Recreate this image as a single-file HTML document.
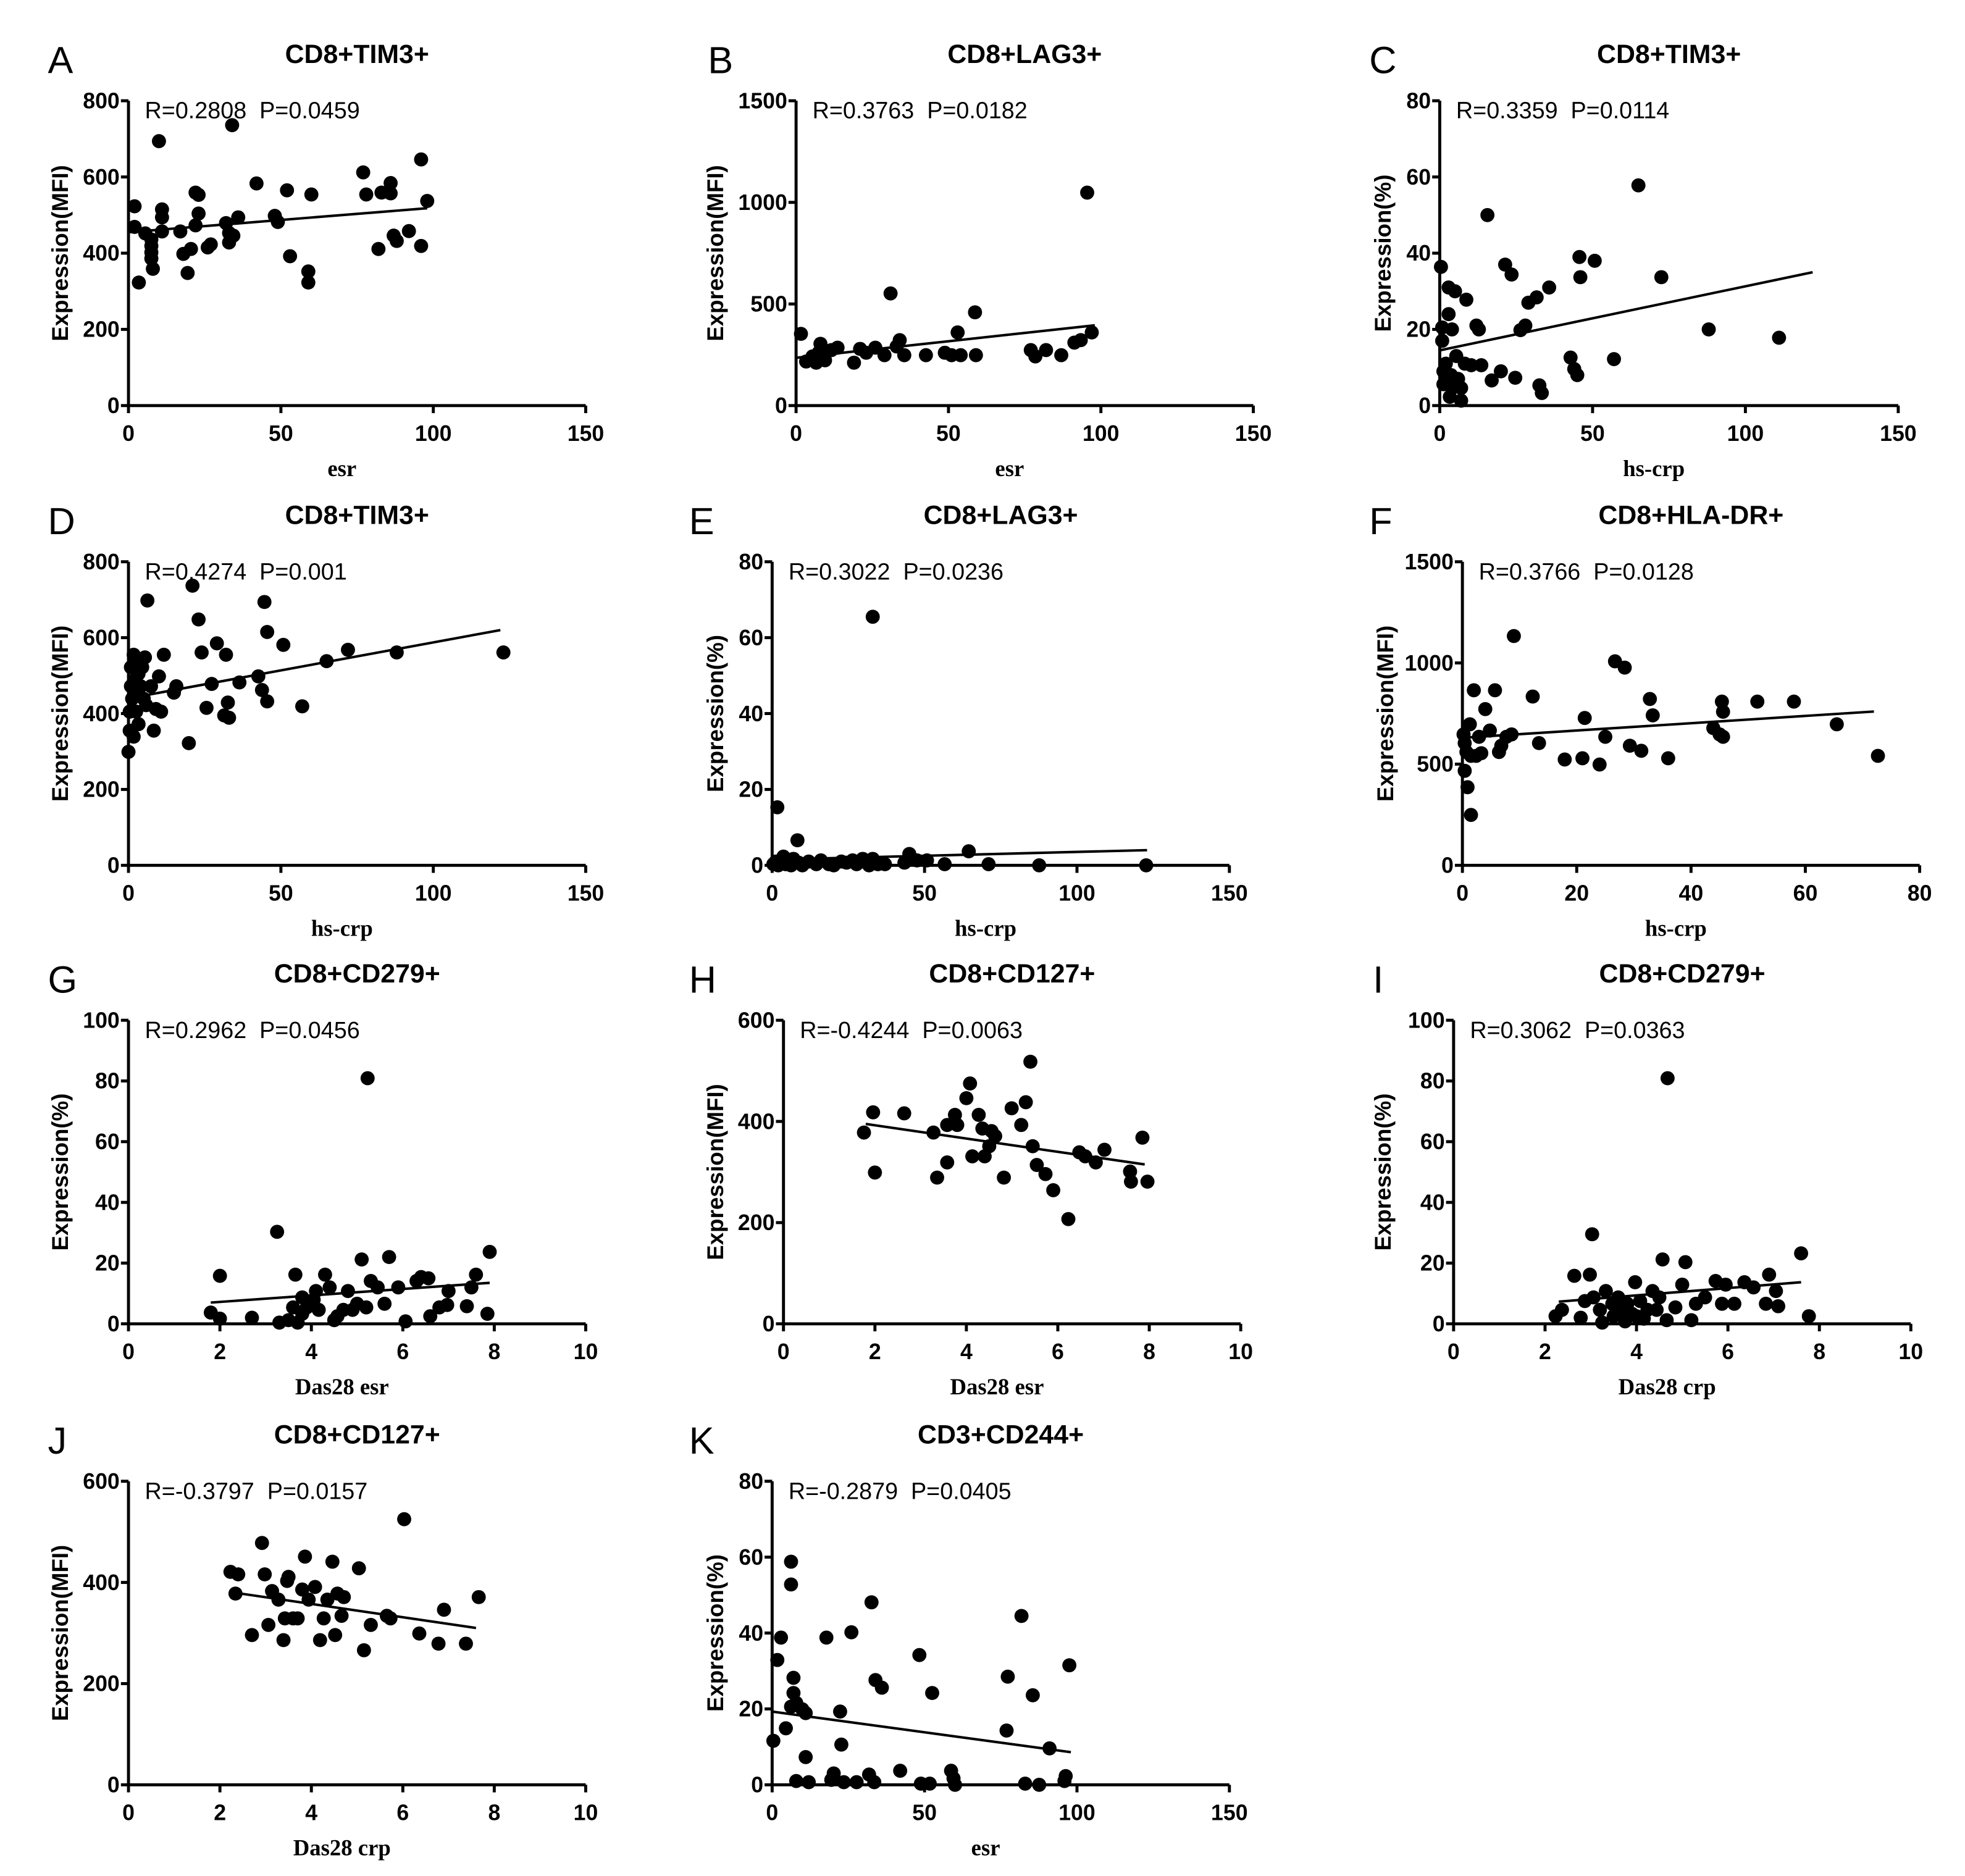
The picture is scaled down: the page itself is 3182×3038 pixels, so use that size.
<!DOCTYPE html>
<html><head><meta charset="utf-8"><style>
html,body{margin:0;padding:0;background:#fff;}
svg{display:block;}
.tick{font-family:"Liberation Sans",sans-serif;font-weight:bold;font-size:17.5px;fill:#000;}
.ttl{font-family:"Liberation Sans",sans-serif;font-weight:bold;font-size:21px;fill:#000;}
.let{font-family:"Liberation Sans",sans-serif;font-size:30px;fill:#000;}
.stat{font-family:"Liberation Sans",sans-serif;font-size:18.5px;fill:#000;}
.xl{font-family:"Liberation Serif",serif;font-weight:bold;font-size:18px;fill:#000;}
.yl{font-family:"Liberation Sans",sans-serif;font-weight:bold;font-size:18px;fill:#000;}
</style></head><body>
<svg id="fig" width="3182" height="3038" viewBox="0 0 1560 1489.4" preserveAspectRatio="none" xmlns="http://www.w3.org/2000/svg"></svg>
<script>
// ---- data ----
const aX=[2,2,3.4,5.5,7.5,7.5,7.5,7.5,8,10,11,11,11,17,18,19.4,20.5,22,22,23,23,26,27,32,33,33,34,34.4,36,42,48,49,52,53,59,59,60,77,78,82,83,86,86,87,88,92,96,96,98];
const aY=[523,469,323,452,436,419,402,386,359,694,515,494,457,457,398,348,411,473,559,553,504,415,423,479,428,453,736,446,494,583,498,482,565,392,352,323,554,612,554,411,559,584,557,446,432,458,646,419,537];
const aFit=[0,455,98,518];
const bX=[1.6,3.3,5.4,7.4,6.6,8,9.5,11.6,13.6,19,21,23,26,29,31,33,34,35.5,42.6,48.8,51,53,54,58.7,59,77,78.5,82,87,91.3,95.5,93.4,97];
const bY=[353,217,242,260,211,304,223,273,285,211,279,260,285,248,552,291,322,248,248,260,248,360,248,459,248,273,242,273,248,310,1048,322,360];
const bFit=[0,235,98,395];
const cX=[0.4,0.8,0.8,1.2,1.2,2,2.9,2.9,3.3,3.7,4,5,4,5.4,6,7,7,8.2,8.7,10.3,12,12.8,13.6,15.6,17,20,21.4,23.5,24.7,26.4,28,29,31.7,32.6,33.4,35.8,42.8,44,45,45.7,46,50.7,57,65,72.5,88,111];
const cY=[36.4,17,20.5,9,5.6,11,24,31,2.3,8,4.6,30,20,13,7,1.3,4.6,11,27.8,10.6,21,20,10.6,50,6.6,9,37,34.4,7.3,19.8,21,27,28.4,5.3,3.3,31,12.6,9.6,8,39,33.7,38,12.2,57.8,33.7,20,17.8];
const cFit=[0,14.5,122,35];
const dX=[0,0.4,0.4,0.8,0.8,1.2,1.7,1.7,2,2.5,2.5,2.9,3.3,3.3,4,4.5,5,5.4,6.2,5.8,7.4,8.3,9,10,10.7,11.6,14.9,15.7,19.8,21,23,24,25.6,27.3,29,31.4,32,32.6,33,36.4,42.6,43.8,44.6,45.5,45.5,50.8,57,65,72,88,123];
const dY=[299,355,405,472,522,439,339,555,488,405,538,455,372,505,472,522,439,548,698,422,472,355,412,498,405,555,455,472,322,737,648,561,415,478,585,395,555,429,389,482,498,462,694,615,432,581,419,538,568,561,561];
const dFit=[0,440,122,620];
const eX=[0.4,1.2,2,2.9,3.7,4.5,5.4,6.2,7,8.3,8.7,9.9,12,14.5,16,18.6,20.2,22.7,24.4,26.4,27.7,29.7,31,31.8,33,33,34.7,37,43.4,45,47.5,50.8,56.6,64.5,71,87.6,122.7,1.7];
const eY=[0.3,1,0,1.3,2.3,0.3,1,0,1.7,6.6,0.7,0,1,0.3,1.3,0.3,0,1,0.7,1.3,0.3,1.7,0.7,0,1.7,65.5,0.3,0.3,0.7,3,1.3,1.3,0.3,3.7,0.3,0,0,15.3];
const eFit=[0,1.5,123,4];
const fX=[0.2,0.4,0.4,0.7,0.9,1.3,1.5,1.5,2,2.4,2.9,3.3,4,4.8,5.7,6.4,6.8,7.7,9,8.6,12.3,13.4,17.9,21.4,21,24,25,26.7,28.4,29.3,31.3,32.8,33.3,36,43.9,45,45.4,45.6,45.6,51.6,58,65.5,72.7];
const fY=[647,604,467,560,386,697,249,541,865,541,635,554,772,666,865,560,591,635,1133,647,834,604,523,728,529,498,635,1008,977,591,566,822,741,529,678,647,809,759,635,809,809,697,541];
const fFit=[0,630,72,760];
const gX=[1.8,2,2,2.7,3.25,3.3,3.5,3.6,3.65,3.7,3.8,3.8,3.9,4.05,4.1,4.16,4.3,4.4,4.5,4.57,4.7,4.8,4.9,5,5.1,5.2,5.23,5.3,5.45,5.6,5.7,5.9,6.06,6.3,6.4,6.56,6.6,6.8,6.97,7,7.4,7.5,7.6,7.85,7.9];
const gY=[3.7,1.7,15.8,2,30.3,0.4,1.2,5.4,16.2,0.4,8.7,3.3,5.4,7.9,10.8,4.6,16.2,12,1.2,2.5,4.6,10.8,4.6,6.6,21.2,5.4,80.9,14.1,12,6.6,22,12,0.8,14.1,15.4,15,2.5,5.4,6.2,10.8,5.8,12,16.2,3.3,23.7];
const gFit=[1.8,7,7.9,13.5];
const hX=[1.76,1.96,2,2.64,3.28,3.36,3.58,3.58,3.75,3.8,4,4.08,4.13,4.27,4.35,4.4,4.5,4.55,4.63,4.82,4.99,5.2,5.3,5.4,5.45,5.54,5.73,5.9,6.23,6.47,6.6,6.83,7.02,7.58,7.6,7.85,7.96];
const hY=[378,418,299,416,378,289,319,393,413,393,446,475,331,413,386,331,351,381,371,289,426,393,438,518,351,314,296,264,207,339,331,319,344,301,281,368,281];
const hFit=[1.8,395,7.9,315];
const iX=[2.23,2.37,2.64,2.78,2.87,2.98,3.03,3.06,3.2,3.25,3.33,3.47,3.5,3.6,3.7,3.75,3.8,3.9,3.97,4,4.08,4.16,4.24,4.35,4.44,4.5,4.57,4.66,4.68,4.85,5,5.07,5.2,5.3,5.5,5.73,5.87,5.95,6.14,6.36,6.56,6.83,6.9,7.05,7.1,7.6,7.77];
const iY=[2.5,4.6,15.8,2,7.5,16.2,29.5,8.7,4.6,0.4,10.8,6.6,2.5,8.7,4.6,0.8,6.6,3.3,13.7,2.5,7.5,1.7,4.6,10.8,4.6,8.7,21.2,1.2,80.9,5.4,12.9,20.3,1.2,6.6,8.7,14.1,6.6,12.9,6.6,13.7,12,6.6,16.2,10.8,5.8,23.2,2.5];
const iFit=[2.3,7.3,7.6,13.7];
const jX=[2.23,2.34,2.4,2.7,2.92,2.98,3.06,3.14,3.28,3.39,3.42,3.47,3.5,3.6,3.7,3.8,3.86,3.94,4.08,4.19,4.27,4.35,4.46,4.52,4.57,4.66,4.71,5.04,5.15,5.3,5.65,5.73,6.03,6.36,6.78,6.9,7.38,7.66];
const jY=[421,378,416,296,478,416,316,383,366,286,329,403,411,329,329,386,451,366,391,286,329,366,441,296,378,334,371,428,266,316,334,329,525,299,279,346,279,371];
const jFit=[2.3,380,7.6,310];
const kX=[0.4,1.7,2.9,4.5,6.2,6.2,6.2,7,7,7.9,7.9,9.9,11,11,12,17.8,19.4,20.2,22.3,22.7,23.5,26,27.7,31.8,32.6,33.5,33.9,36,42,48.3,48.8,51.7,52.5,58.7,59.5,60,76.9,77.3,81.8,83,85.5,87.6,91,95.9,96.3,97.5];
const kY=[11.6,32.9,38.8,14.9,20.6,58.8,52.8,28.2,24.2,21.6,1,19.9,18.9,7.3,0.7,38.8,1.3,3,19.3,10.6,0.7,40.2,0.7,2.7,48.1,0.7,27.6,25.6,3.7,34.2,0.3,0.3,24.2,3.7,1.7,0,14.3,28.5,44.5,0.3,23.6,0,9.6,1,2.3,31.5];
const kFit=[0,19.3,98,8.6];
const xTicks150=[0,50,100,150], xTicks80=[0,20,40,60,80], xTicks10=[0,2,4,6,8,10];
const yT800=[0,200,400,600,800], yT1500=[0,500,1000,1500], yT80=[0,20,40,60,80], yT100=[0,20,40,60,80,100], yT600=[0,200,400,600];

// ---- layout ----
const panels=[
 {id:'a',L:'A',t:'CD8+TIM3+',st:'R=0.2808  P=0.0459',x0:102,x1:465,top:80,bot:322,xm:150,ym:800,xt:xTicks150,yt:yT800,xl:'esr',yl:'Expression(MFI)',X:aX,Y:aY,F:aFit,lx:38,ylx:48},
 {id:'b',L:'B',t:'CD8+LAG3+',st:'R=0.3763  P=0.0182',x0:632,x1:995,top:80,bot:322,xm:150,ym:1500,xt:xTicks150,yt:yT1500,xl:'esr',yl:'Expression(MFI)',X:bX,Y:bY,F:bFit,lx:562,ylx:568},
 {id:'c',L:'C',t:'CD8+TIM3+',st:'R=0.3359  P=0.0114',x0:1143,x1:1507,top:80,bot:322,xm:150,ym:80,xt:xTicks150,yt:yT80,xl:'hs-crp',yl:'Expression(%)',X:cX,Y:cY,F:cFit,lx:1087,ylx:1098},
 {id:'d',L:'D',t:'CD8+TIM3+',st:'R=0.4274  P=0.001',x0:102,x1:465,top:446,bot:687,xm:150,ym:800,xt:xTicks150,yt:yT800,xl:'hs-crp',yl:'Expression(MFI)',X:dX,Y:dY,F:dFit,lx:38,ylx:48},
 {id:'e',L:'E',t:'CD8+LAG3+',st:'R=0.3022  P=0.0236',x0:613,x1:976,top:446,bot:687,xm:150,ym:80,xt:xTicks150,yt:yT80,xl:'hs-crp',yl:'Expression(%)',X:eX,Y:eY,F:eFit,lx:547,ylx:568},
 {id:'f',L:'F',t:'CD8+HLA-DR+',st:'R=0.3766  P=0.0128',x0:1161,x1:1524,top:446,bot:687,xm:80,ym:1500,xt:xTicks80,yt:yT1500,xl:'hs-crp',yl:'Expression(MFI)',X:fX,Y:fY,F:fFit,lx:1087,ylx:1100},
 {id:'g',L:'G',t:'CD8+CD279+',st:'R=0.2962  P=0.0456',x0:102,x1:465,top:810,bot:1051,xm:10,ym:100,xt:xTicks10,yt:yT100,xl:'Das28 esr',yl:'Expression(%)',X:gX,Y:gY,F:gFit,lx:38,ylx:48},
 {id:'h',L:'H',t:'CD8+CD127+',st:'R=-0.4244  P=0.0063',x0:622,x1:985,top:810,bot:1051,xm:10,ym:600,xt:xTicks10,yt:yT600,xl:'Das28 esr',yl:'Expression(MFI)',X:hX,Y:hY,F:hFit,lx:547,ylx:568},
 {id:'i',L:'I',t:'CD8+CD279+',st:'R=0.3062  P=0.0363',x0:1154,x1:1517,top:810,bot:1051,xm:10,ym:100,xt:xTicks10,yt:yT100,xl:'Das28 crp',yl:'Expression(%)',X:iX,Y:iY,F:iFit,lx:1090,ylx:1098},
 {id:'j',L:'J',t:'CD8+CD127+',st:'R=-0.3797  P=0.0157',x0:102,x1:465,top:1176,bot:1417,xm:10,ym:600,xt:xTicks10,yt:yT600,xl:'Das28 crp',yl:'Expression(MFI)',X:jX,Y:jY,F:jFit,lx:38,ylx:48},
 {id:'k',L:'K',t:'CD3+CD244+',st:'R=-0.2879  P=0.0405',x0:613,x1:976,top:1176,bot:1417,xm:150,ym:80,xt:xTicks150,yt:yT80,xl:'esr',yl:'Expression(%)',X:kX,Y:kY,F:kFit,lx:547,ylx:568}
];
const NS='http://www.w3.org/2000/svg';
const svg=document.getElementById('fig');
function mk(tag,attrs,parent,txt){const e=document.createElementNS(NS,tag);for(const k in attrs)e.setAttribute(k,attrs[k]);if(txt!==undefined)e.textContent=txt;parent.appendChild(e);return e;}
panels.forEach(p=>{
  const g=mk('g',{},svg);
  
  
  const sx=v=>p.x0+(v/p.xm)*(p.x1-p.x0);
  const sy=v=>p.bot-(v/p.ym)*(p.bot-p.top);
  const lt=mk('text',{x:p.lx,y:p.top-22,class:'let'},g,p.L);
  
  
  const tt=mk('text',{x:(p.x0+p.x1)/2,y:p.top-30,class:'ttl','text-anchor':'middle'},g,p.t);
  
  
  const stt=mk('text',{x:p.x0+13,y:p.top+14,class:'stat'},g,p.st.replace('  ','\u00a0\u00a0'));
  
  
  const ax=mk('path',{d:`M${p.x0},${p.top} L${p.x0},${p.bot} L${p.x1},${p.bot}`,stroke:'#000','stroke-width':2.4,fill:'none'},g);
  
  
  p.xt.forEach(v=>{
    const x=sx(v);
    const tl=mk('line',{x1:x,y1:p.bot,x2:x,y2:p.bot+6,stroke:'#000','stroke-width':2.4},g);
    
    
    const tx=mk('text',{x:x,y:p.bot+28,class:'tick','text-anchor':'middle'},g,String(v));
    
    
  });
  p.yt.forEach(v=>{
    const y=sy(v);
    const tl=mk('line',{x1:p.x0-6,y1:y,x2:p.x0,y2:y,stroke:'#000','stroke-width':2.4},g);
    
    
    const tx=mk('text',{x:p.x0-7,y:y+6,class:'tick','text-anchor':'end'},g,String(v));
    
    
  });
  const xl=mk('text',{x:(p.x0+p.x1)/2-12,y:p.bot+56,class:'xl','text-anchor':'middle'},g,p.xl);
  
  
  const cy=(p.top+p.bot)/2;
  const yl=mk('text',{x:p.ylx,y:cy,class:'yl','text-anchor':'middle',transform:`rotate(-90 ${p.ylx} ${cy})`,dy:6},g,p.yl);
  
  
  p.X.forEach((v,i)=>{
    const c=mk('circle',{cx:sx(v),cy:sy(p.Y[i]),r:5.6,fill:'#000'},g);
    
    
  });
  const fl=mk('line',{x1:sx(p.F[0]),y1:sy(p.F[1]),x2:sx(p.F[2]),y2:sy(p.F[3]),stroke:'#000','stroke-width':2},g);
  
  
});
</script>
</body></html>
